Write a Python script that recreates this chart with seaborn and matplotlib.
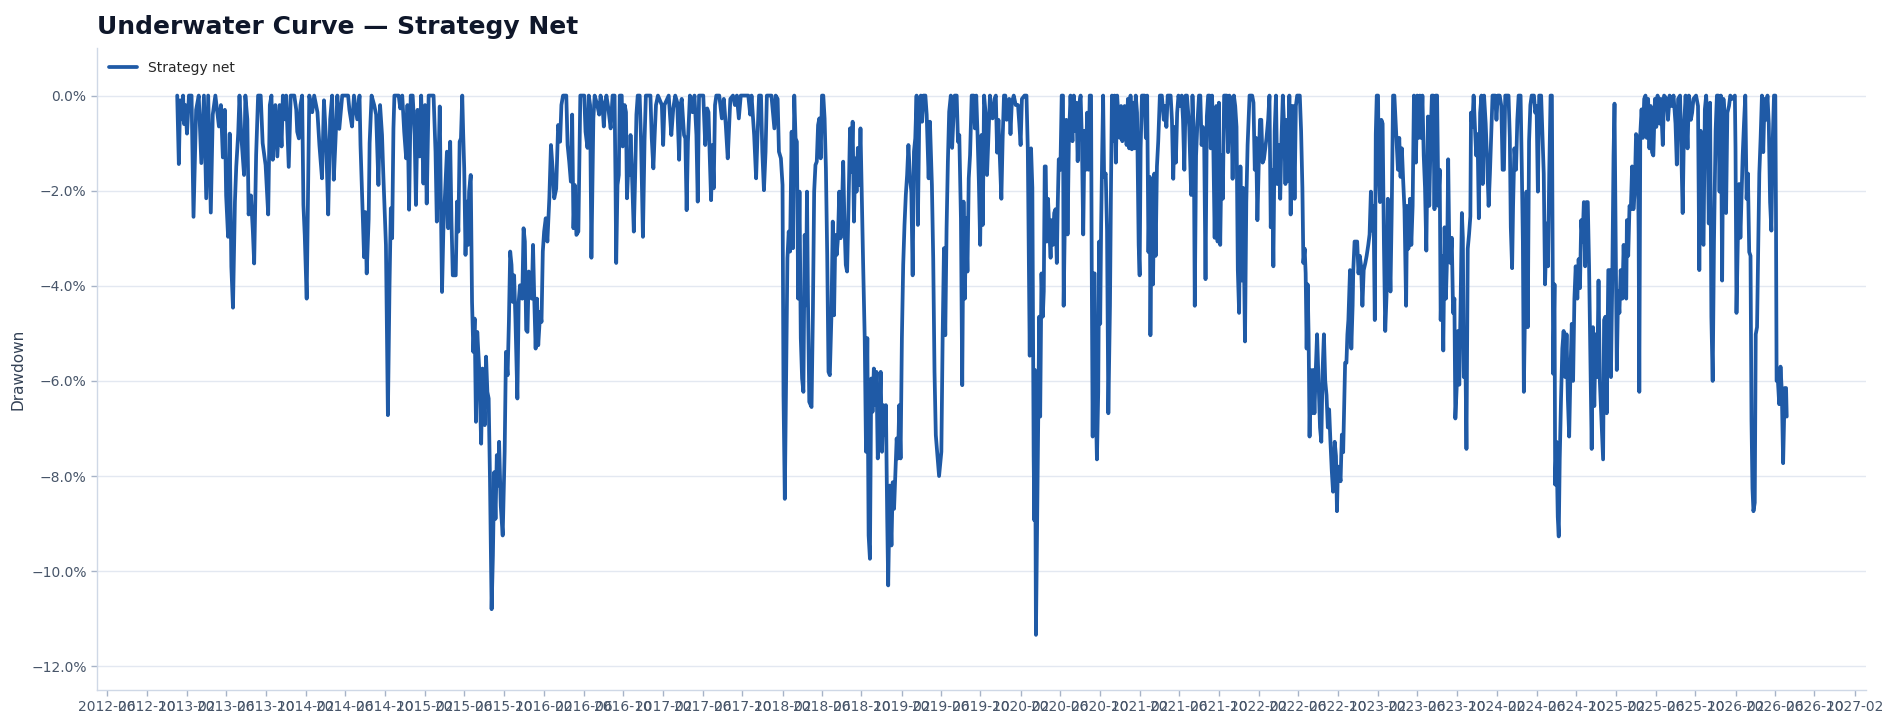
import pandas as pd
import matplotlib
matplotlib.use("Agg")
import matplotlib.pyplot as plt
import matplotlib.dates as mdates
from matplotlib.ticker import PercentFormatter
import seaborn as sns

# drawdown of the strategy (in %), turning points
dd_2013 = [
    ("2013-01-02", 0.0), ("2013-01-07", -1.44), ("2013-01-11", -0.1), ("2013-01-17", -0.5),
    ("2013-01-20", 0.0), ("2013-01-23", -0.6), ("2013-01-27", -0.2), ("2013-02-01", -0.8),
    ("2013-02-07", 0.0), ("2013-02-15", 0.0), ("2013-02-21", -2.55), ("2013-03-01", -0.3),
    ("2013-03-09", 0.0), ("2013-03-17", -1.42), ("2013-03-25", 0.0), ("2013-04-01", -2.16),
    ("2013-04-07", 0.0), ("2013-04-15", -2.46), ("2013-04-21", -0.4), ("2013-04-29", 0.0),
    ("2013-05-10", -0.65), ("2013-05-16", -0.2), ("2013-05-22", -1.3), ("2013-05-28", -0.3),
    ("2013-06-01", -2.1), ("2013-06-07", -2.97), ("2013-06-12", -0.8), ("2013-06-17", -3.6),
    ("2013-06-22", -4.46), ("2013-06-28", -2.23), ("2013-07-02", -1.5), ("2013-07-08", -0.8),
    ("2013-07-12", 0.0), ("2013-07-18", -0.9), ("2013-07-26", -1.67), ("2013-07-30", 0.0),
    ("2013-08-05", -0.5), ("2013-08-09", -2.5), ("2013-08-16", -2.1), ("2013-08-22", -2.86),
    ("2013-08-26", -3.53), ("2013-09-01", -1.25), ("2013-09-07", 0.0), ("2013-09-15", 0.0),
    ("2013-09-21", -1.0), ("2013-09-30", -1.46), ("2013-10-08", -2.5), ("2013-10-13", -0.2),
    ("2013-10-18", 0.0), ("2013-10-22", -1.35), ("2013-10-30", -0.2), ("2013-11-05", -1.28),
    ("2013-11-12", -0.2), ("2013-11-18", -1.07), ("2013-11-22", 0.0), ("2013-11-28", -0.5),
    ("2013-12-02", 0.0), ("2013-12-10", -1.5), ("2013-12-16", 0.0), ("2013-12-27", 0.0),
]
dd_2014 = [
    ("2014-01-02", -0.3), ("2014-01-05", -0.76), ("2014-01-10", -0.9), ("2014-01-15", -0.2),
    ("2014-01-20", 0.0), ("2014-01-24", -2.3), ("2014-01-28", -2.93), ("2014-02-03", -4.27),
    ("2014-02-07", -2.1), ("2014-02-11", 0.0), ("2014-02-20", -0.35), ("2014-02-26", 0.0),
    ("2014-03-08", -0.35), ("2014-03-14", -1.04), ("2014-03-22", -1.74), ("2014-03-28", -0.1),
    ("2014-04-04", -1.04), ("2014-04-10", -2.5), ("2014-04-16", -0.5), ("2014-04-22", 0.0),
    ("2014-04-27", -1.77), ("2014-05-02", -1.0), ("2014-05-08", 0.0), ("2014-05-14", -0.7),
    ("2014-05-23", 0.0), ("2014-06-10", 0.0), ("2014-06-14", -0.3), ("2014-06-22", -0.65),
    ("2014-06-28", 0.0), ("2014-07-08", -0.5), ("2014-07-15", 0.0), ("2014-07-18", -1.04),
    ("2014-07-23", -2.1), ("2014-07-29", -3.4), ("2014-08-02", -2.45), ("2014-08-06", -3.74),
    ("2014-08-12", -2.6), ("2014-08-15", -1.0), ("2014-08-21", 0.0), ("2014-08-29", -0.2),
    ("2014-09-04", -0.4), ("2014-09-11", -1.88), ("2014-09-16", -0.2), ("2014-09-22", -0.83),
    ("2014-09-26", -1.67), ("2014-10-01", -2.58), ("2014-10-04", -3.14), ("2014-10-10", -6.72),
    ("2014-10-15", -4.0), ("2014-10-19", -2.37), ("2014-10-23", -3.0), ("2014-10-27", -0.69),
    ("2014-10-30", 0.0), ("2014-11-12", 0.0), ("2014-11-17", -0.27), ("2014-11-23", 0.0),
    ("2014-11-29", -0.76), ("2014-12-05", -1.32), ("2014-12-09", -0.2), ("2014-12-14", -2.4),
    ("2014-12-19", 0.0), ("2014-12-25", 0.0), ("2014-12-31", -0.83),
]
dd_2015 = [
    ("2015-01-04", -2.3), ("2015-01-09", -0.3), ("2015-01-15", -1.28), ("2015-01-20", 0.0),
    ("2015-01-27", -1.85), ("2015-02-01", -0.2), ("2015-02-06", -2.27), ("2015-02-12", 0.0),
    ("2015-02-27", 0.0), ("2015-03-05", -1.18), ("2015-03-09", -2.65), ("2015-03-14", -1.46),
    ("2015-03-18", -0.23), ("2015-03-22", -2.58), ("2015-03-25", -4.13), ("2015-03-29", -2.86),
    ("2015-04-05", -1.81), ("2015-04-09", -1.18), ("2015-04-13", -2.79), ("2015-04-19", -0.97),
    ("2015-04-23", -2.65), ("2015-04-27", -3.78), ("2015-05-06", -3.78), ("2015-05-10", -2.23),
    ("2015-05-14", -2.86), ("2015-05-18", -0.97), ("2015-05-22", -0.9), ("2015-05-26", 0.0),
    ("2015-05-29", -0.83), ("2015-06-01", -1.53), ("2015-06-05", -3.35), ("2015-06-09", -2.23),
    ("2015-06-13", -3.14), ("2015-06-16", -2.02), ("2015-06-21", -1.67), ("2015-06-25", -4.34),
    ("2015-06-29", -5.39), ("2015-07-03", -4.69), ("2015-07-07", -6.86), ("2015-07-11", -4.97),
    ("2015-07-17", -5.74), ("2015-07-23", -7.32), ("2015-07-27", -5.74), ("2015-08-03", -6.93),
    ("2015-08-07", -5.49), ("2015-08-11", -6.23), ("2015-08-15", -6.37), ("2015-08-19", -8.06),
    ("2015-08-24", -10.8), ("2015-08-28", -9.67), ("2015-09-01", -7.92), ("2015-09-05", -8.9),
    ("2015-09-09", -7.56), ("2015-09-13", -8.2), ("2015-09-16", -7.28), ("2015-09-21", -8.62),
    ("2015-09-27", -9.25), ("2015-10-03", -7.49), ("2015-10-07", -5.39), ("2015-10-12", -5.88),
    ("2015-10-16", -4.76), ("2015-10-20", -3.28), ("2015-10-24", -3.56), ("2015-10-28", -4.34),
    ("2015-11-01", -3.78), ("2015-11-05", -4.69), ("2015-11-11", -6.37), ("2015-11-15", -4.34),
    ("2015-11-19", -3.99), ("2015-11-26", -4.27), ("2015-11-30", -2.79), ("2015-12-04", -3.07),
    ("2015-12-08", -4.93), ("2015-12-12", -4.97), ("2015-12-16", -3.7), ("2015-12-20", -3.99),
    ("2015-12-25", -4.27), ("2015-12-29", -3.14),
]
dd_2016 = [
    ("2016-01-02", -4.34), ("2016-01-06", -5.32), ("2016-01-10", -4.27), ("2016-01-14", -5.25),
    ("2016-01-20", -4.55), ("2016-01-24", -4.76), ("2016-01-28", -3.28), ("2016-02-01", -2.86),
    ("2016-02-06", -2.58), ("2016-02-11", -3.07), ("2016-02-17", -2.16), ("2016-02-22", -1.04),
    ("2016-02-27", -1.53), ("2016-03-03", -2.16), ("2016-03-09", -1.96), ("2016-03-15", -0.62),
    ("2016-03-21", -0.97), ("2016-03-25", -0.2), ("2016-03-30", 0.0), ("2016-04-09", 0.0),
    ("2016-04-13", -1.04), ("2016-04-18", -1.39), ("2016-04-23", -1.81), ("2016-04-27", -0.4),
    ("2016-05-01", -2.79), ("2016-05-05", -1.88), ("2016-05-10", -2.93), ("2016-05-16", -2.86),
    ("2016-05-19", -1.39), ("2016-05-22", 0.0), ("2016-06-03", 0.0), ("2016-06-07", -0.76),
    ("2016-06-13", -1.1), ("2016-06-17", 0.0), ("2016-06-21", -0.2), ("2016-06-25", -3.41),
    ("2016-07-01", -0.48), ("2016-07-05", 0.0), ("2016-07-13", -0.2), ("2016-07-19", -0.4),
    ("2016-07-23", 0.0), ("2016-07-29", -0.2), ("2016-08-02", -0.65), ("2016-08-06", -0.2),
    ("2016-08-10", 0.0), ("2016-08-16", -0.27), ("2016-08-23", -0.69), ("2016-08-29", 0.0),
    ("2016-09-04", 0.0), ("2016-09-07", -1.88), ("2016-09-09", -3.52), ("2016-09-13", -1.88),
    ("2016-09-17", -1.67), ("2016-09-20", 0.0), ("2016-09-26", 0.0), ("2016-09-29", -1.07),
    ("2016-10-05", -0.2), ("2016-10-09", -0.35), ("2016-10-12", -2.16), ("2016-10-16", -1.53),
    ("2016-10-20", -1.67), ("2016-10-23", -0.83), ("2016-10-27", -1.57), ("2016-11-02", -2.86),
    ("2016-11-06", -1.74), ("2016-11-10", -0.4), ("2016-11-14", 0.0), ("2016-11-20", 0.0),
    ("2016-11-24", -0.9), ("2016-11-30", -2.97), ("2016-12-05", -0.93), ("2016-12-09", 0.0),
    ("2016-12-23", 0.0), ("2016-12-27", -0.9),
]
dd_2017 = [
    ("2017-01-01", -1.53), ("2017-01-05", -0.83), ("2017-01-09", -0.2), ("2017-01-15", 0.0),
    ("2017-01-27", -0.2), ("2017-01-31", -1.04), ("2017-02-04", -0.2), ("2017-02-17", 0.0),
    ("2017-02-25", -0.83), ("2017-03-03", -0.27), ("2017-03-09", 0.0), ("2017-03-15", -0.14),
    ("2017-03-21", -1.35), ("2017-03-25", -0.2), ("2017-03-29", -0.07), ("2017-04-05", -0.83),
    ("2017-04-09", -0.9), ("2017-04-13", -2.41), ("2017-04-17", -0.97), ("2017-04-23", 0.0),
    ("2017-05-01", -0.35), ("2017-05-07", 0.0), ("2017-05-13", -0.83), ("2017-05-17", -2.23),
    ("2017-05-21", 0.0), ("2017-06-03", 0.0), ("2017-06-09", -1.04), ("2017-06-15", -0.27),
    ("2017-06-19", -0.35), ("2017-06-23", -1.32), ("2017-06-27", -2.2), ("2017-07-01", -1.04),
    ("2017-07-05", -1.95), ("2017-07-09", -0.2), ("2017-07-13", 0.0), ("2017-07-22", 0.0),
    ("2017-07-30", -0.48), ("2017-08-05", -0.07), ("2017-08-11", -0.62), ("2017-08-17", -1.32),
    ("2017-08-21", -0.69), ("2017-08-25", -0.07), ("2017-09-02", 0.0), ("2017-09-08", -0.2),
    ("2017-09-14", 0.0), ("2017-09-20", -0.48), ("2017-09-26", 0.0), ("2017-10-19", 0.0),
    ("2017-10-25", -0.4), ("2017-10-29", 0.0), ("2017-11-06", -0.83), ("2017-11-12", -1.74),
    ("2017-11-16", -0.9), ("2017-11-21", 0.0), ("2017-11-27", 0.0), ("2017-12-01", -1.18),
    ("2017-12-06", -1.99), ("2017-12-11", -1.18), ("2017-12-15", 0.0), ("2017-12-29", 0.0),
]
dd_2018 = [
    ("2018-01-07", -0.69), ("2018-01-11", 0.0), ("2018-01-17", -0.07), ("2018-01-21", -1.18),
    ("2018-01-27", -1.32), ("2018-02-01", -1.88), ("2018-02-04", -6.3), ("2018-02-08", -8.48),
    ("2018-02-12", -5.95), ("2018-02-16", -3.42), ("2018-02-20", -2.86), ("2018-02-24", -3.28),
    ("2018-03-01", -0.76), ("2018-03-05", -3.21), ("2018-03-09", 0.0), ("2018-03-13", -0.9),
    ("2018-03-17", -0.97), ("2018-03-21", -4.27), ("2018-03-25", -2.02), ("2018-03-29", -5.1),
    ("2018-04-02", -5.95), ("2018-04-06", -6.23), ("2018-04-10", -2.93), ("2018-04-14", -4.41),
    ("2018-04-17", -2.02), ("2018-04-20", -4.27), ("2018-04-24", -6.44), ("2018-05-01", -6.55),
    ("2018-05-05", -4.62), ("2018-05-09", -2.02), ("2018-05-13", -1.46), ("2018-05-17", -1.39),
    ("2018-05-21", -0.62), ("2018-05-25", -0.48), ("2018-05-29", -1.32), ("2018-06-02", 0.0),
    ("2018-06-06", 0.0), ("2018-06-10", -0.48), ("2018-06-14", -1.53), ("2018-06-18", -3.35),
    ("2018-06-22", -5.81), ("2018-06-26", -5.88), ("2018-07-01", -4.62), ("2018-07-05", -2.65),
    ("2018-07-09", -4.62), ("2018-07-13", -2.93), ("2018-07-17", -3.35), ("2018-07-21", -3.0),
    ("2018-07-25", -2.02), ("2018-07-29", -3.0), ("2018-08-02", -2.44), ("2018-08-06", -1.39),
    ("2018-08-10", -2.72), ("2018-08-14", -3.56), ("2018-08-18", -3.7), ("2018-08-22", -2.44),
    ("2018-08-27", -0.69), ("2018-08-31", -1.6), ("2018-09-04", -0.55), ("2018-09-08", -2.65),
    ("2018-09-12", -1.32), ("2018-09-16", -2.02), ("2018-09-20", -1.1), ("2018-09-24", -1.88),
    ("2018-09-28", -0.69), ("2018-10-02", -2.09), ("2018-10-06", -3.49), ("2018-10-11", -5.1),
    ("2018-10-15", -7.49), ("2018-10-19", -5.1), ("2018-10-23", -9.25), ("2018-10-27", -9.74),
    ("2018-10-31", -5.95), ("2018-11-04", -6.65), ("2018-11-08", -5.74), ("2018-11-12", -6.51),
    ("2018-11-16", -5.81), ("2018-11-20", -7.63), ("2018-11-25", -6.79), ("2018-11-29", -5.81),
    ("2018-12-03", -7.49), ("2018-12-07", -6.51), ("2018-12-11", -7.14), ("2018-12-15", -6.51),
    ("2018-12-19", -8.9), ("2018-12-22", -10.3), ("2018-12-27", -8.2),
]
dd_2019 = [
    ("2019-01-01", -9.46), ("2019-01-05", -8.13), ("2019-01-09", -8.69), ("2019-01-13", -7.92),
    ("2019-01-17", -7.21), ("2019-01-21", -7.63), ("2019-01-25", -6.51), ("2019-01-29", -7.63),
    ("2019-02-02", -5.1), ("2019-02-06", -3.56), ("2019-02-10", -2.72), ("2019-02-14", -2.09),
    ("2019-02-18", -1.67), ("2019-02-22", -1.04), ("2019-02-27", -1.74), ("2019-03-03", -2.02),
    ("2019-03-07", -3.78), ("2019-03-11", -1.18), ("2019-03-15", -0.9), ("2019-03-19", 0.0),
    ("2019-03-23", -2.72), ("2019-03-27", -0.62), ("2019-04-01", 0.0), ("2019-04-05", -0.55),
    ("2019-04-09", 0.0), ("2019-04-15", 0.0), ("2019-04-19", -0.4), ("2019-04-25", -1.74),
    ("2019-04-29", -0.55), ("2019-05-05", -1.88), ("2019-05-09", -3.42), ("2019-05-13", -5.81),
    ("2019-05-17", -7.14), ("2019-05-21", -7.49), ("2019-05-27", -8.0), ("2019-06-03", -7.49),
    ("2019-06-07", -5.04), ("2019-06-11", -3.21), ("2019-06-15", -5.04), ("2019-06-19", -2.79),
    ("2019-06-23", -1.39), ("2019-06-27", -0.34), ("2019-07-02", 0.0), ("2019-07-06", -1.1),
    ("2019-07-10", -0.48), ("2019-07-14", 0.0), ("2019-07-20", 0.0), ("2019-07-24", -0.97),
    ("2019-07-28", -0.83), ("2019-08-02", -2.58), ("2019-08-06", -6.09), ("2019-08-10", -2.23),
    ("2019-08-14", -4.27), ("2019-08-18", -2.58), ("2019-08-22", -3.7), ("2019-08-26", -1.74),
    ("2019-08-30", -1.25), ("2019-09-04", 0.0), ("2019-09-10", 0.0), ("2019-09-14", -0.69),
    ("2019-09-18", 0.0), ("2019-09-22", -0.83), ("2019-09-26", -1.81), ("2019-09-30", -3.14),
    ("2019-10-04", -0.83), ("2019-10-08", -2.72), ("2019-10-12", 0.0), ("2019-10-17", -0.4),
    ("2019-10-21", -1.67), ("2019-10-30", 0.0), ("2019-11-03", -0.44), ("2019-11-07", -0.48),
    ("2019-11-13", -0.07), ("2019-11-17", 0.0), ("2019-11-21", -1.2), ("2019-11-25", -0.51),
    ("2019-11-29", -1.26), ("2019-12-04", -2.17), ("2019-12-08", -0.89), ("2019-12-12", 0.0),
    ("2019-12-16", 0.0), ("2019-12-20", -0.51), ("2019-12-24", -0.44), ("2019-12-28", -0.07),
]
dd_2020 = [
    ("2020-01-01", -0.81), ("2020-01-05", -0.15), ("2020-01-11", 0.0), ("2020-01-17", -0.2),
    ("2020-01-24", -0.2), ("2020-01-28", -0.59), ("2020-02-01", -1.04), ("2020-02-05", -0.07),
    ("2020-02-13", 0.0), ("2020-02-19", 0.0), ("2020-02-23", -1.11), ("2020-02-25", -2.62),
    ("2020-02-29", -5.47), ("2020-03-04", -1.11), ("2020-03-08", -1.94), ("2020-03-12", -7.58),
    ("2020-03-14", -8.93), ("2020-03-16", -5.77), ("2020-03-19", -11.34), ("2020-03-23", -8.78),
    ("2020-03-26", -6.83), ("2020-03-29", -4.65), ("2020-04-01", -6.75), ("2020-04-05", -3.74),
    ("2020-04-09", -4.65), ("2020-04-12", -4.12), ("2020-04-15", -1.49), ("2020-04-18", -1.49),
    ("2020-04-21", -3.07), ("2020-04-25", -2.17), ("2020-04-29", -2.84), ("2020-05-03", -3.41),
    ("2020-05-06", -2.62), ("2020-05-10", -3.14), ("2020-05-14", -2.47), ("2020-05-18", -2.39),
    ("2020-05-22", -3.52), ("2020-05-25", -2.24), ("2020-05-28", -1.34), ("2020-06-02", -1.56),
    ("2020-06-06", 0.0), ("2020-06-10", 0.0), ("2020-06-12", -4.42), ("2020-06-16", -2.54),
    ("2020-06-20", -0.51), ("2020-06-24", -2.92), ("2020-06-28", -0.96), ("2020-07-03", 0.0),
    ("2020-07-09", -0.96), ("2020-07-13", 0.0), ("2020-07-17", -0.74), ("2020-07-21", -0.15),
    ("2020-07-25", -1.38), ("2020-07-29", -0.22), ("2020-08-03", 0.0), ("2020-08-07", -0.96),
    ("2020-08-11", -2.92), ("2020-08-15", -0.74), ("2020-08-19", -1.56), ("2020-08-23", -0.36),
    ("2020-08-27", -1.56), ("2020-08-31", 0.0), ("2020-09-04", 0.0), ("2020-09-06", -3.52),
    ("2020-09-09", -7.17), ("2020-09-12", -3.74), ("2020-09-15", -3.74), ("2020-09-18", -6.3),
    ("2020-09-22", -7.65), ("2020-09-26", -6.23), ("2020-09-29", -3.07), ("2020-10-02", -4.8),
    ("2020-10-05", -2.69), ("2020-10-08", -1.26), ("2020-10-11", 0.0), ("2020-10-14", -1.71),
    ("2020-10-19", -1.64), ("2020-10-23", -2.84), ("2020-10-27", -6.68), ("2020-11-01", -4.42),
    ("2020-11-04", -2.02), ("2020-11-07", 0.0), ("2020-11-11", -0.96), ("2020-11-15", 0.0),
    ("2020-11-19", -1.41), ("2020-11-23", 0.0), ("2020-12-01", -0.89), ("2020-12-05", -0.22),
    ("2020-12-09", -0.96), ("2020-12-16", -0.22), ("2020-12-22", -1.04), ("2020-12-26", -0.07),
    ("2020-12-30", -1.11),
]
dd_2021 = [
    ("2021-01-03", 0.0), ("2021-01-07", -1.13), ("2021-01-11", -0.15), ("2021-01-15", -1.11),
    ("2021-01-19", 0.0), ("2021-01-23", -0.36), ("2021-01-28", -3.14), ("2021-01-31", -3.78),
    ("2021-02-03", -1.11), ("2021-02-07", 0.0), ("2021-02-15", 0.0), ("2021-02-19", -0.89),
    ("2021-02-23", 0.0), ("2021-02-27", -3.29), ("2021-03-03", -1.71), ("2021-03-05", -5.04),
    ("2021-03-09", -1.86), ("2021-03-13", -3.97), ("2021-03-17", -1.64), ("2021-03-21", -3.37),
    ("2021-03-25", -1.49), ("2021-03-29", -0.96), ("2021-04-03", 0.0), ("2021-04-09", 0.0),
    ("2021-04-15", -0.51), ("2021-04-19", -0.22), ("2021-04-23", -0.66), ("2021-04-27", 0.0),
    ("2021-05-06", 0.0), ("2021-05-10", -0.51), ("2021-05-14", -1.75), ("2021-05-18", -0.66),
    ("2021-05-22", -1.41), ("2021-05-26", -0.36), ("2021-05-30", 0.0), ("2021-06-05", -0.22),
    ("2021-06-09", 0.0), ("2021-06-13", -0.51), ("2021-06-17", -1.56), ("2021-06-21", 0.0),
    ("2021-06-25", 0.0), ("2021-07-02", -0.66), ("2021-07-08", -2.09), ("2021-07-12", 0.0),
    ("2021-07-16", -0.89), ("2021-07-19", -4.42), ("2021-07-23", -1.26), ("2021-07-27", -0.59),
    ("2021-08-01", 0.0), ("2021-08-05", 0.0), ("2021-08-09", -1.04), ("2021-08-13", -0.66),
    ("2021-08-17", -1.11), ("2021-08-21", -3.86), ("2021-08-25", -0.44), ("2021-08-29", 0.0),
    ("2021-09-02", 0.0), ("2021-09-06", -1.11), ("2021-09-10", 0.0), ("2021-09-14", -1.13),
    ("2021-09-18", -2.99), ("2021-09-23", -0.22), ("2021-09-27", -3.07), ("2021-10-01", -0.15),
    ("2021-10-05", -3.14), ("2021-10-09", -1.26), ("2021-10-13", -2.17), ("2021-10-17", 0.0),
    ("2021-10-25", 0.0), ("2021-10-29", -1.19), ("2021-11-02", 0.0), ("2021-11-08", -0.07),
    ("2021-11-12", -1.75), ("2021-11-16", 0.0), ("2021-11-20", -0.22), ("2021-11-24", -0.66),
    ("2021-11-28", -3.67), ("2021-12-02", -4.57), ("2021-12-06", -1.49), ("2021-12-10", -3.89),
    ("2021-12-14", -1.94), ("2021-12-20", -5.17), ("2021-12-24", -2.24), ("2021-12-28", -1.04),
]
dd_2022 = [
    ("2022-01-03", 0.0), ("2022-01-11", 0.0), ("2022-01-15", -0.15), ("2022-01-19", -1.56),
    ("2022-01-23", -0.89), ("2022-01-27", -2.62), ("2022-01-31", -1.49), ("2022-02-04", -0.51),
    ("2022-02-08", -0.51), ("2022-02-12", -1.41), ("2022-02-16", -1.34), ("2022-02-20", -1.11),
    ("2022-02-24", -0.89), ("2022-03-01", -0.51), ("2022-03-05", 0.0), ("2022-03-09", -2.77),
    ("2022-03-13", -1.56), ("2022-03-17", -3.59), ("2022-03-21", -0.74), ("2022-03-25", 0.0),
    ("2022-03-29", -1.86), ("2022-04-02", -1.04), ("2022-04-07", -2.17), ("2022-04-11", -0.89),
    ("2022-04-15", 0.0), ("2022-04-19", -0.66), ("2022-04-23", -1.86), ("2022-04-27", -0.51),
    ("2022-05-01", -1.79), ("2022-05-05", 0.0), ("2022-05-09", -2.5), ("2022-05-13", -0.22),
    ("2022-05-17", -0.22), ("2022-05-21", -2.17), ("2022-05-25", -0.22), ("2022-05-29", 0.0),
    ("2022-06-06", 0.0), ("2022-06-10", -0.74), ("2022-06-14", -1.94), ("2022-06-17", -3.52),
    ("2022-06-21", -3.22), ("2022-06-24", -3.74), ("2022-06-27", -5.32), ("2022-06-30", -3.97),
    ("2022-07-03", -5.02), ("2022-07-06", -7.17), ("2022-07-09", -5.77), ("2022-07-13", -6.68),
    ("2022-07-17", -5.77), ("2022-07-21", -6.68), ("2022-07-25", -5.77), ("2022-07-29", -5.02),
    ("2022-08-03", -6.08), ("2022-08-07", -6.98), ("2022-08-11", -7.28), ("2022-08-15", -5.77),
    ("2022-08-19", -5.02), ("2022-08-23", -6.0), ("2022-08-27", -6.3), ("2022-08-31", -6.98),
    ("2022-09-04", -6.6), ("2022-09-08", -7.28), ("2022-09-12", -7.88), ("2022-09-16", -8.33),
    ("2022-09-21", -7.28), ("2022-09-25", -7.58), ("2022-09-28", -8.74), ("2022-10-01", -7.8),
    ("2022-10-05", -7.88), ("2022-10-09", -8.11), ("2022-10-13", -7.13), ("2022-10-17", -7.5),
    ("2022-10-20", -6.53), ("2022-10-23", -5.62), ("2022-10-27", -5.62), ("2022-10-30", -5.02),
    ("2022-11-02", -4.72), ("2022-11-07", -3.67), ("2022-11-11", -5.32), ("2022-11-15", -4.42),
    ("2022-11-17", -3.67), ("2022-11-21", -3.07), ("2022-11-25", -3.07), ("2022-11-29", -3.07),
    ("2022-12-03", -3.74), ("2022-12-07", -3.37), ("2022-12-11", -3.59), ("2022-12-15", -4.42),
    ("2022-12-19", -3.67), ("2022-12-24", -3.52), ("2022-12-28", -3.37),
]
dd_2023 = [
    ("2023-01-02", -3.14), ("2023-01-06", -2.92), ("2023-01-10", -2.02), ("2023-01-14", -2.84),
    ("2023-01-18", -2.32), ("2023-01-22", -4.72), ("2023-01-25", -0.81), ("2023-01-28", 0.0),
    ("2023-02-01", 0.0), ("2023-02-03", -1.64), ("2023-02-07", -2.24), ("2023-02-11", -0.51),
    ("2023-02-15", -0.59), ("2023-02-19", -3.14), ("2023-02-23", -4.95), ("2023-02-27", -4.2),
    ("2023-03-03", -2.17), ("2023-03-07", -2.99), ("2023-03-11", -4.12), ("2023-03-15", -2.39),
    ("2023-03-19", 0.0), ("2023-03-23", 0.0), ("2023-04-03", -1.56), ("2023-04-07", -0.89),
    ("2023-04-11", -1.71), ("2023-04-15", -1.11), ("2023-04-19", -1.79), ("2023-04-23", -2.39),
    ("2023-04-28", -4.42), ("2023-05-01", -2.32), ("2023-05-05", -3.22), ("2023-05-10", -2.17),
    ("2023-05-14", -3.14), ("2023-05-18", -2.32), ("2023-05-22", 0.0), ("2023-05-28", -1.41),
    ("2023-06-01", 0.0), ("2023-06-05", -0.89), ("2023-06-09", 0.0), ("2023-06-13", -0.89),
    ("2023-06-17", 0.0), ("2023-06-21", -1.26), ("2023-06-25", -1.94), ("2023-06-29", -3.26),
    ("2023-07-04", -0.44), ("2023-07-08", -2.32), ("2023-07-12", -0.96), ("2023-07-16", 0.0),
    ("2023-07-20", 0.0), ("2023-07-24", -2.39), ("2023-07-28", 0.0), ("2023-08-01", 0.0),
    ("2023-08-05", -2.32), ("2023-08-09", -1.56), ("2023-08-12", -4.72), ("2023-08-16", -3.37),
    ("2023-08-20", -5.36), ("2023-08-24", -2.77), ("2023-08-28", -4.27), ("2023-09-01", -3.29),
    ("2023-09-04", -1.34), ("2023-09-07", -2.99), ("2023-09-11", -3.52), ("2023-09-15", -2.99),
    ("2023-09-19", -4.57), ("2023-09-23", -4.27), ("2023-09-26", -6.79), ("2023-09-30", -6.15),
    ("2023-10-04", -4.95), ("2023-10-08", -6.08), ("2023-10-12", -4.42), ("2023-10-16", -2.47),
    ("2023-10-19", -2.99), ("2023-10-22", -5.92), ("2023-10-26", -5.02), ("2023-10-30", -7.43),
    ("2023-11-03", -3.22), ("2023-11-07", -2.92), ("2023-11-11", -2.54), ("2023-11-13", -0.36),
    ("2023-11-17", -0.66), ("2023-11-21", 0.0), ("2023-11-25", -0.66), ("2023-11-29", -1.26),
    ("2023-12-03", -0.81), ("2023-12-07", -2.58), ("2023-12-11", -0.36), ("2023-12-15", 0.0),
    ("2023-12-19", -1.86), ("2023-12-23", 0.0), ("2023-12-28", -0.59),
]
dd_2024 = [
    ("2024-01-02", -1.49), ("2024-01-06", -2.32), ("2024-01-10", -1.64), ("2024-01-14", -0.81),
    ("2024-01-18", 0.0), ("2024-01-26", 0.0), ("2024-01-30", -0.51), ("2024-02-03", 0.0),
    ("2024-02-09", 0.0), ("2024-02-14", -0.22), ("2024-02-18", -1.56), ("2024-02-22", -1.56),
    ("2024-02-26", 0.0), ("2024-03-07", 0.0), ("2024-03-11", -0.89), ("2024-03-14", -2.77),
    ("2024-03-18", -3.63), ("2024-03-21", -2.32), ("2024-03-25", -1.11), ("2024-03-30", -1.56),
    ("2024-04-03", -0.51), ("2024-04-07", 0.0), ("2024-04-13", 0.0), ("2024-04-17", -1.64),
    ("2024-04-20", -3.07), ("2024-04-23", -6.23), ("2024-04-27", -4.27), ("2024-05-01", -2.02),
    ("2024-05-05", -4.87), ("2024-05-09", -0.96), ("2024-05-13", -0.2), ("2024-05-17", 0.0),
    ("2024-05-24", 0.0), ("2024-05-28", -0.36), ("2024-06-01", -0.22), ("2024-06-05", -2.02),
    ("2024-06-09", 0.0), ("2024-06-15", 0.0), ("2024-06-19", -0.81), ("2024-06-23", -1.64),
    ("2024-06-27", -3.97), ("2024-07-02", -2.69), ("2024-07-06", -3.59), ("2024-07-10", -1.56),
    ("2024-07-14", 0.0), ("2024-07-18", 0.0), ("2024-07-22", -5.85), ("2024-07-26", -3.97),
    ("2024-07-28", -8.18), ("2024-08-01", -7.28), ("2024-08-05", -8.86), ("2024-08-08", -9.27),
    ("2024-08-11", -7.65), ("2024-08-15", -6.38), ("2024-08-19", -5.32), ("2024-08-23", -4.95),
    ("2024-08-28", -5.92), ("2024-09-01", -5.02), ("2024-09-05", -6.38), ("2024-09-09", -7.17),
    ("2024-09-13", -5.77), ("2024-09-17", -4.8), ("2024-09-21", -6.0), ("2024-09-25", -4.27),
    ("2024-09-29", -3.59), ("2024-10-04", -4.27), ("2024-10-08", -3.44), ("2024-10-12", -4.05),
    ("2024-10-16", -2.62), ("2024-10-20", -3.07), ("2024-10-24", -2.24), ("2024-10-28", -3.59),
    ("2024-11-01", -2.24), ("2024-11-05", -2.24), ("2024-11-09", -3.59), ("2024-11-13", -5.47),
    ("2024-11-17", -7.43), ("2024-11-21", -4.87), ("2024-11-25", -6.53), ("2024-11-29", -5.02),
    ("2024-12-04", -5.92), ("2024-12-08", -3.89), ("2024-12-12", -6.0), ("2024-12-22", -7.65),
    ("2024-12-25", -4.72), ("2024-12-29", -4.65),
]
dd_2025 = [
    ("2025-01-02", -6.68), ("2025-01-07", -3.67), ("2025-01-11", -3.67), ("2025-01-15", -5.92),
    ("2025-01-19", -3.97), ("2025-01-23", -1.26), ("2025-01-26", -0.17), ("2025-01-29", -2.62),
    ("2025-02-02", -5.77), ("2025-02-06", -4.12), ("2025-02-10", -4.57), ("2025-02-14", -3.67),
    ("2025-02-19", -4.27), ("2025-02-23", -3.14), ("2025-02-27", -4.2), ("2025-03-03", -4.27),
    ("2025-03-05", -2.62), ("2025-03-09", -3.37), ("2025-03-13", -2.32), ("2025-03-17", -2.39),
    ("2025-03-21", -1.49), ("2025-03-25", -2.39), ("2025-03-29", -2.02), ("2025-04-02", -0.81),
    ("2025-04-07", -0.89), ("2025-04-10", -2.92), ("2025-04-12", -6.23), ("2025-04-15", -0.81),
    ("2025-04-19", -0.29), ("2025-04-23", -0.89), ("2025-04-27", -0.07), ("2025-05-01", 0.0),
    ("2025-05-05", -0.89), ("2025-05-09", -0.07), ("2025-05-13", -1.11), ("2025-05-17", -0.22),
    ("2025-05-21", -1.19), ("2025-05-25", -1.26), ("2025-05-30", -0.07), ("2025-06-03", -0.66),
    ("2025-06-07", 0.0), ("2025-06-13", -0.59), ("2025-06-17", -0.07), ("2025-06-23", -1.04),
    ("2025-06-27", 0.0), ("2025-07-05", -0.07), ("2025-07-09", -0.51), ("2025-07-14", 0.0),
    ("2025-07-20", -0.22), ("2025-07-26", 0.0), ("2025-08-01", -0.59), ("2025-08-05", -1.45),
    ("2025-08-09", -0.07), ("2025-08-15", 0.0), ("2025-08-19", -1.26), ("2025-08-23", -2.47),
    ("2025-08-27", -0.66), ("2025-09-01", 0.0), ("2025-09-07", -1.11), ("2025-09-11", 0.0),
    ("2025-09-17", -0.51), ("2025-09-21", -0.36), ("2025-09-25", -0.07), ("2025-10-03", 0.0),
    ("2025-10-09", -0.22), ("2025-10-13", -3.67), ("2025-10-17", -0.74), ("2025-10-22", -3.07),
    ("2025-10-26", -3.14), ("2025-10-30", -0.29), ("2025-11-03", 0.0), ("2025-11-07", -0.59),
    ("2025-11-11", -2.69), ("2025-11-15", -0.15), ("2025-11-19", -4.65), ("2025-11-23", -6.0),
    ("2025-11-27", -3.07), ("2025-12-02", -0.74), ("2025-12-06", 0.0), ("2025-12-10", 0.0),
    ("2025-12-14", -2.02), ("2025-12-18", 0.0), ("2025-12-22", -3.89), ("2025-12-26", -0.07),
    ("2025-12-30", -0.51),
]
dd_2026 = [
    ("2026-01-03", -2.47), ("2026-01-07", -0.36), ("2026-01-12", -0.22), ("2026-01-16", 0.0),
    ("2026-01-22", -0.07), ("2026-01-30", 0.0), ("2026-02-01", -1.11), ("2026-02-04", -4.57),
    ("2026-02-08", -3.07), ("2026-02-12", -1.86), ("2026-02-16", -2.99), ("2026-02-20", -2.02),
    ("2026-02-23", -1.26), ("2026-02-27", -0.59), ("2026-03-03", 0.0), ("2026-03-07", -2.17),
    ("2026-03-11", -1.64), ("2026-03-15", -3.29), ("2026-03-19", -3.37), ("2026-03-22", -6.83),
    ("2026-03-25", -8.26), ("2026-03-28", -8.74), ("2026-04-01", -8.56), ("2026-04-04", -5.02),
    ("2026-04-08", -4.87), ("2026-04-11", -3.52), ("2026-04-15", -1.64), ("2026-04-19", -0.89),
    ("2026-04-23", 0.0), ("2026-04-27", -1.19), ("2026-05-01", -0.07), ("2026-05-05", -0.51),
    ("2026-05-10", 0.0), ("2026-05-14", -0.59), ("2026-05-18", -2.24), ("2026-05-22", -2.84),
    ("2026-05-26", -0.96), ("2026-05-30", 0.0), ("2026-06-03", 0.0), ("2026-06-05", -2.39),
    ("2026-06-07", -6.0), ("2026-06-11", -6.0), ("2026-06-15", -6.49), ("2026-06-19", -5.7),
    ("2026-06-23", -6.23), ("2026-06-27", -7.73), ("2026-07-02", -6.15), ("2026-07-06", -6.15),
    ("2026-07-08", -6.75),
]

series_label = "Strategy net"
title = "Underwater Curve \u2014 Strategy Net"

rows = (dd_2013 + dd_2014 + dd_2015 + dd_2016 + dd_2017 + dd_2018 + dd_2019
        + dd_2020 + dd_2021 + dd_2022 + dd_2023 + dd_2024 + dd_2025 + dd_2026)
df = pd.DataFrame(rows, columns=["date", "drawdown"])
df["date"] = pd.to_datetime(df["date"])
df = df.drop_duplicates("date").sort_values("date")

sns.set_theme(style="white")
plt.rcParams["font.family"] = ["DejaVu Sans"]

fig, ax = plt.subplots(figsize=(18.94, 7.23), dpi=100)
fig.subplots_adjust(left=0.0512, right=0.9852, top=0.9336, bottom=0.0456)

sns.lineplot(data=df, x="date", y="drawdown", ax=ax, color="#1f5aa6",
             linewidth=2.7, estimator=None, label=series_label)

ax.set_ylim(-12.5, 1.0)
ax.set_xlim(pd.Timestamp("2012-05-01"), pd.Timestamp("2027-03-08"))
ax.yaxis.set_major_formatter(PercentFormatter(xmax=100, decimals=1))
ax.set_yticks([0, -2, -4, -6, -8, -10, -12])
ax.xaxis.set_major_locator(mdates.MonthLocator(bymonth=[2, 6, 10]))
ax.xaxis.set_major_formatter(mdates.DateFormatter("%Y-%m"))

ax.yaxis.grid(True, color="#e3e8f1", linewidth=1.0)
ax.xaxis.grid(False)
ax.set_axisbelow(True)
for side in ["top", "right"]:
    ax.spines[side].set_visible(False)
for side in ["left", "bottom"]:
    ax.spines[side].set_color("#cfd8e6")
    ax.spines[side].set_linewidth(1.0)

ax.tick_params(axis="both", which="major", bottom=True, left=True, length=4, width=1,
               color="#a7b3c7", labelcolor="#475569", labelsize=10)

ax.set_xlabel("")
ax.set_ylabel("Drawdown", fontsize=11, color="#334155")
ax.set_title(title, loc="left", fontsize=18, fontweight="bold", color="#0f172a", pad=10)
ax.legend(loc="upper left", frameon=False, fontsize=10)

fig.savefig("out.png", dpi=100)
